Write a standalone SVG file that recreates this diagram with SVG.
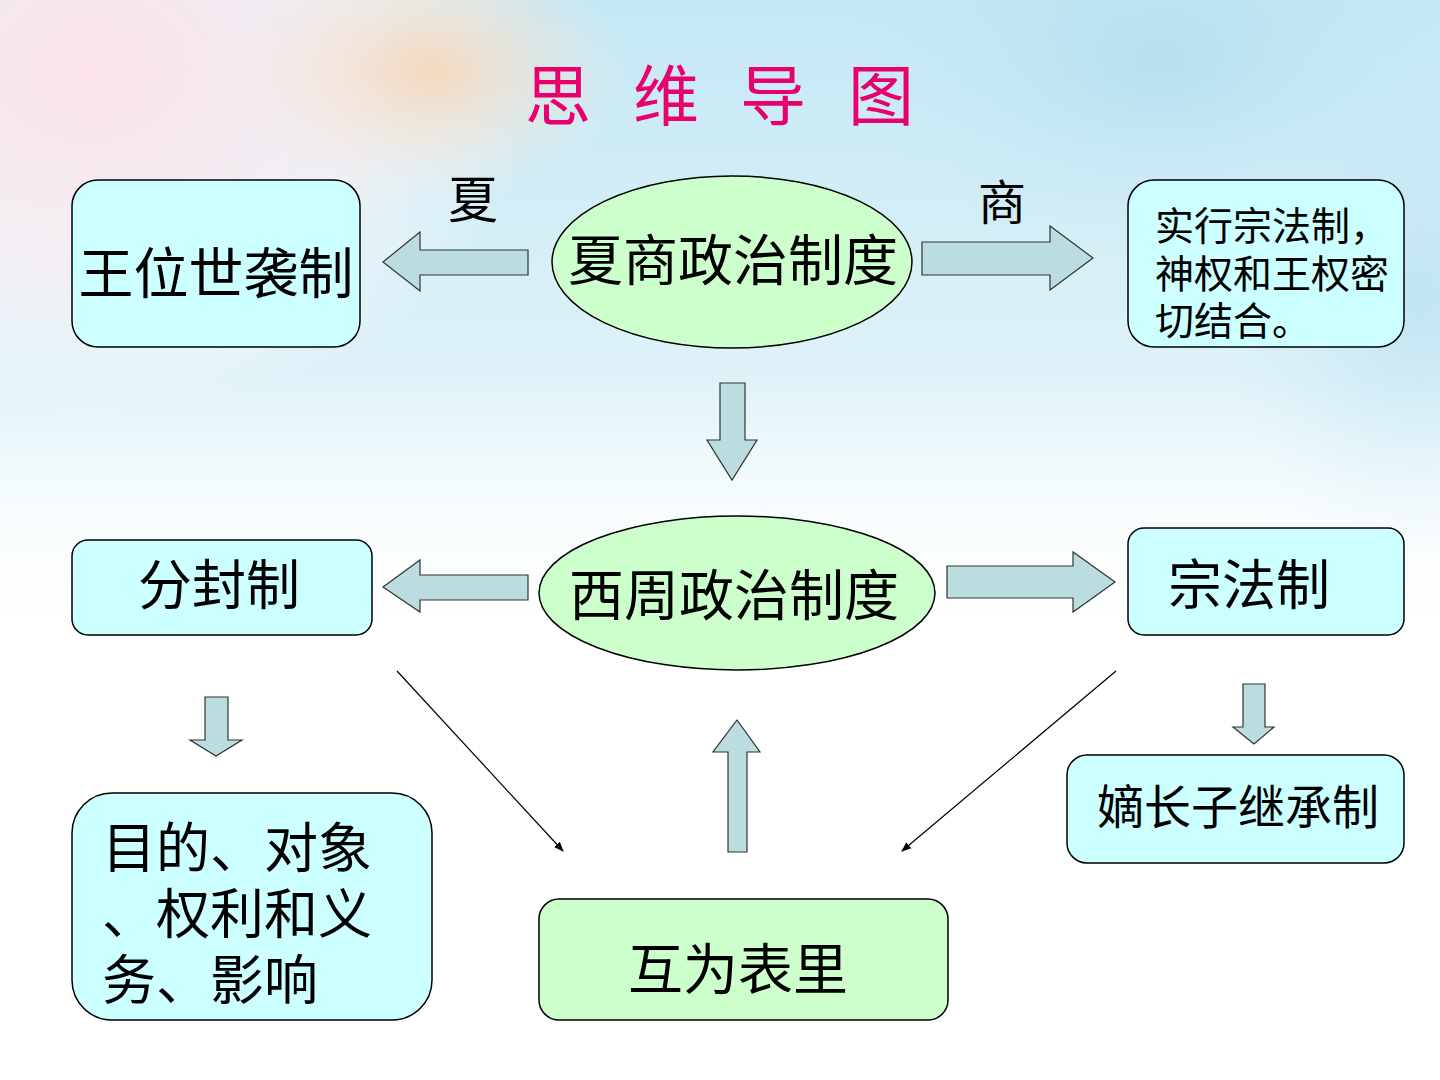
<svg xmlns="http://www.w3.org/2000/svg" width="1440" height="1080" viewBox="0 0 1440 1080">
<defs>
<linearGradient id="bgv" x1="0" y1="0" x2="0" y2="1">
<stop offset="0" stop-color="#c4e8f4"/>
<stop offset="0.35" stop-color="#dff2f8"/>
<stop offset="0.6" stop-color="#ffffff" stop-opacity="0"/>
<stop offset="1" stop-color="#ffffff" stop-opacity="0"/>
</linearGradient>
<radialGradient id="pink" cx="0.1" cy="0.1" r="0.5">
<stop offset="0" stop-color="#fbe3ea"/>
<stop offset="0.6" stop-color="#fdf0f3" stop-opacity="0.7"/>
<stop offset="1" stop-color="#ffffff" stop-opacity="0"/>
</radialGradient>
<radialGradient id="peach" cx="0.5" cy="0.5" r="0.5">
<stop offset="0" stop-color="#f3d8bd"/>
<stop offset="1" stop-color="#f8e8dc" stop-opacity="0"/>
</radialGradient>
<radialGradient id="blue" cx="0.5" cy="0.5" r="0.5">
<stop offset="0" stop-color="#a9d8ec"/>
<stop offset="1" stop-color="#c4e8f4" stop-opacity="0"/>
</radialGradient>
<marker id="ah" markerWidth="10" markerHeight="10" refX="9" refY="5" orient="auto" markerUnits="userSpaceOnUse">
<path d="M0,1 L10,5 L0,9 Z" fill="#000"/>
</marker>
<style>
.cjk{font-family:"Noto Sans CJK SC","Noto Sans CJK JP",sans-serif;fill:#000}
.box{fill:#ccffff;stroke:#000;stroke-width:1.5}
.gbox{fill:#ccffcc;stroke:#000;stroke-width:1.5}
.arr{fill:#bcdde0;stroke:#333;stroke-width:1.2}
.line{stroke:#000;stroke-width:1.2;fill:none}
</style>
</defs>
<g id="background">
<rect x="0" y="0" width="1440" height="1080" fill="#ffffff"/>
<rect x="0" y="0" width="1440" height="1080" fill="url(#bgv)"/>
<rect x="0" y="0" width="900" height="700" fill="url(#pink)"/>
<ellipse cx="430" cy="70" rx="200" ry="130" fill="url(#peach)"/>
<ellipse cx="1160" cy="60" rx="320" ry="200" fill="url(#blue)" opacity="0.6"/>
<ellipse cx="1420" cy="300" rx="200" ry="260" fill="url(#blue)" opacity="0.5"/>
</g>
<g id="title">
<text class="cjk" x="525 633 740 848" y="120" font-size="66" style="fill:#e8006e">思维导图</text>
</g>
<g id="connectors">
<path class="arr" d="M528,250 L420,250 L420,232 L383,262 L420,291 L420,275 L528,275 Z"/>
<path class="arr" d="M922,242 L1050,242 L1050,226 L1093,258 L1050,290 L1050,275 L922,275 Z"/>
<path class="arr" d="M720,383 L745,383 L745,440 L757,440 L732,480 L707,440 L720,440 Z"/>
<path class="arr" d="M528,575 L420,575 L420,560 L383,587 L420,612 L420,600 L528,600 Z"/>
<path class="arr" d="M947,566 L1073,566 L1073,552 L1115,582 L1073,612 L1073,598 L947,598 Z"/>
<path class="arr" d="M205,697 L228,697 L228,740 L242,740 L216,756 L190,740 L205,740 Z"/>
<path class="arr" d="M1243,684 L1265,684 L1265,727 L1274,727 L1254,744 L1233,727 L1243,727 Z"/>
<path class="arr" d="M728,852 L747,852 L747,752 L760,752 L737,720 L713,752 L728,752 Z"/>
<line class="line" x1="397" y1="671" x2="563" y2="851" marker-end="url(#ah)"/>
<line class="line" x1="1116" y1="671" x2="902" y2="851" marker-end="url(#ah)"/>
<text class="cjk" x="473" y="218" font-size="50" text-anchor="middle">夏</text>
<text class="cjk" x="1002" y="220" font-size="48" text-anchor="middle">商</text>
</g>
<g id="node-wangwei">
<rect class="box" x="72" y="180" width="288" height="167" rx="26"/>
<text class="cjk" x="216" y="293" font-size="55" text-anchor="middle">王位世袭制</text>
</g>
<g id="node-xiashang">
<ellipse class="gbox" cx="732" cy="262" rx="180" ry="86"/>
<text class="cjk" x="733" y="280" font-size="55" text-anchor="middle">夏商政治制度</text>
</g>
<g id="node-shixing">
<rect class="box" x="1128" y="180" width="276" height="167" rx="26"/>
<text class="cjk" font-size="39"><tspan x="1155" y="240">实行宗法制，</tspan><tspan x="1155" y="288">神权和王权密</tspan><tspan x="1155" y="335">切结合。</tspan></text>
</g>
<g id="node-xizhou">
<ellipse class="gbox" cx="737" cy="593" rx="198" ry="77"/>
<text class="cjk" x="734" y="615" font-size="55" text-anchor="middle">西周政治制度</text>
</g>
<g id="node-fenfeng">
<rect class="box" x="72" y="540" width="300" height="95" rx="16"/>
<text class="cjk" x="219" y="605" font-size="54" text-anchor="middle">分封制</text>
</g>
<g id="node-zongfa">
<rect class="box" x="1128" y="528" width="276" height="107" rx="16"/>
<text class="cjk" x="1249" y="605" font-size="54" text-anchor="middle">宗法制</text>
</g>
<g id="node-mudi">
<rect class="box" x="72" y="793" width="360" height="227" rx="40"/>
<text class="cjk" font-size="54"><tspan x="102" y="868">目的、对象</tspan><tspan x="102" y="934">、权利和义</tspan><tspan x="102" y="1000">务、影响</tspan></text>
</g>
<g id="node-dizhang">
<rect class="box" x="1067" y="755" width="337" height="108" rx="20"/>
<text class="cjk" x="1238" y="824" font-size="47" text-anchor="middle">嫡长子继承制</text>
</g>
<g id="node-huwei">
<rect class="gbox" x="539" y="899" width="409" height="121" rx="20"/>
<text class="cjk" x="738" y="989" font-size="55" text-anchor="middle">互为表里</text>
</g>
</svg>
